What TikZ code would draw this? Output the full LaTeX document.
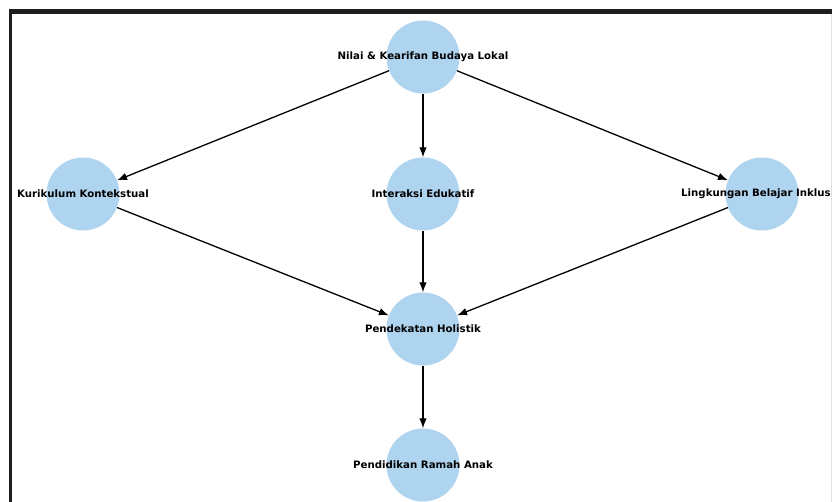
\documentclass[tikz,border=0pt]{standalone}
\usepackage{fontspec}
\setmainfont{DejaVu Sans}
\usetikzlibrary{arrows.meta}
\definecolor{nodeblue}{RGB}{174,212,240}
\definecolor{frame}{RGB}{30,30,30}
\tikzset{
  bubble/.style={circle, fill=nodeblue, draw=none, minimum size=73pt, inner sep=0pt},
  lbl/.style={font=\fontsize{10.2}{12}\selectfont\bfseries, text=black, inner sep=0pt},
  edge/.style={draw=black, line width=1.3pt, -{Latex[length=10pt,width=7.5pt]}}
}
\begin{document}
\begin{tikzpicture}[x=1pt,y=-1pt]
\useasboundingbox (0,0) rectangle (832,502);
\fill[white] (0,0) rectangle (832,502);
\begin{scope}
\clip (12,14) rectangle (832,502);
\node[bubble] (nilai) at (423,57) {};
\node[bubble] (kuri) at (83,194) {};
\node[bubble] (inter) at (423,194) {};
\node[bubble] (ling) at (762,194) {};
\node[bubble] (pend) at (423,329) {};
\node[bubble] (ramah) at (423,465) {};
\draw[edge] (nilai) -- (kuri);
\draw[edge] (nilai) -- (inter);
\draw[edge] (nilai) -- (ling);
\draw[edge] (kuri) -- (pend);
\draw[edge] (inter) -- (pend);
\draw[edge] (ling) -- (pend);
\draw[edge] (pend) -- (ramah);
\node[lbl] (nilai-t) at (nilai) {Nilai \& Kearifan Budaya Lokal};
\node[lbl] (kuri-t) at (kuri) {Kurikulum Kontekstual};
\node[lbl] (inter-t) at (inter) {Interaksi Edukatif};
\node[lbl, anchor=west] (ling-t) at (681,194) {Lingkungan Belajar Inklus};
\node[lbl] (pend-t) at (pend) {Pendekatan Holistik};
\node[lbl] (ramah-t) at (ramah) {Pendidikan Ramah Anak};
\end{scope}
\fill[frame] (9,9) rectangle (832,14);
\fill[frame] (9,9) rectangle (12,502);
\fill[black!12] (830.5,14) rectangle (832,502);
\end{tikzpicture}
\end{document}
